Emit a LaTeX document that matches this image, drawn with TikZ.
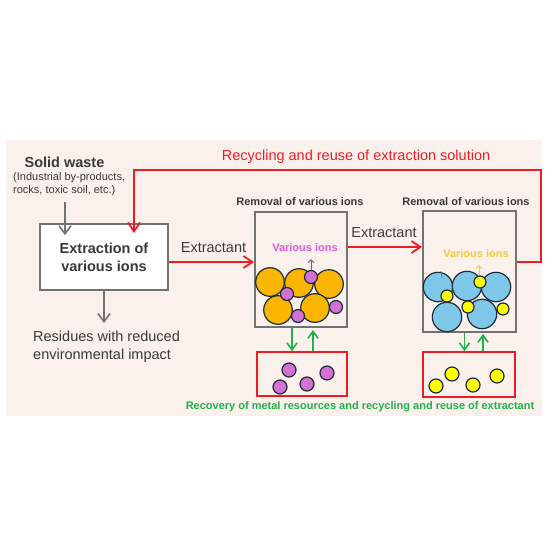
\documentclass[tikz,border=0pt]{standalone}
\usepackage{fontspec}
\setmainfont{Liberation Sans}
\usetikzlibrary{arrows.meta}
\definecolor{bg}{HTML}{FAF1EC}
\definecolor{txtc}{HTML}{3A3A3A}
\definecolor{boxc}{HTML}{727272}
\definecolor{redc}{HTML}{EE1C24}
\definecolor{grnc}{HTML}{22B14C}
\definecolor{magc}{HTML}{D65FD6}
\definecolor{yelt}{HTML}{F7CB2D}
\definecolor{orc}{HTML}{FBB700}
\definecolor{purc}{HTML}{D46FD3}
\definecolor{bluc}{HTML}{7FC7E9}
\definecolor{ylc}{HTML}{FFFF00}
\definecolor{outc}{HTML}{1E2B3A}
\begin{document}
\begin{tikzpicture}[x=1pt,y=-1pt,
  txt/.style={inner sep=0pt, text=txtc},
  big/.style={font=\fontsize{14.5}{18}\selectfont},
  bigb/.style={font=\bfseries\fontsize{14.5}{18}\selectfont},
  smallb/.style={font=\bfseries\fontsize{11}{13}\selectfont},
  smallr/.style={font=\fontsize{11}{13}\selectfont},
  box/.style={draw=boxc, line width=1.8pt, inner sep=0pt},
  rbox/.style={draw=redc, line width=1.6pt, inner sep=0pt},
  garrow/.style={draw=boxc, line width=1.6pt, -{Straight Barb[length=8pt,width=12pt]}},
  rarrow/.style={draw=redc, line width=1.8pt, -{Straight Barb[length=9pt,width=12pt]}},
  gnarrow/.style={draw=grnc, line width=1.6pt, -{Straight Barb[length=7pt,width=10pt]}},
  ball/.style={draw=outc, line width=1.2pt}]
\useasboundingbox (0,0) rectangle (560,560);
\fill[white] (0,0) rectangle (560,560);
\fill[bg] (6,140) rectangle (542,416);

% left part
\node[txt, bigb] (sw) at (64.5,162) {Solid waste};
\node[txt, smallr, align=left, anchor=west] (swd) at (13,184.5) {(Industrial by-products,\\rocks, toxic soil, etc.)};
\node[box, fill=white, minimum width=128pt, minimum height=66pt, align=center, text=txtc, bigb] (ext) at (104,257) {Extraction of\\various ions};
\coordinate (a1) at (65,202);
\draw[garrow, shorten >=-12pt] (a1) -- (a1 |- ext.north);
\coordinate (r1) at (104,323);
\draw[garrow] (ext.south) -- (r1);
\node[txt, big, anchor=west, align=left] (res) at (33,347) {Residues with reduced\\environmental impact};

% column boxes
\node[box, minimum width=92pt, minimum height=115pt] (c1) at (301,269.5) {};
\node[box, minimum width=93pt, minimum height=121pt] (c2) at (469.5,271.5) {};
\node[rbox, minimum width=90pt, minimum height=44pt] (b1) at (302,374) {};
\node[rbox, minimum width=92pt, minimum height=45pt] (b2) at (469,374.5) {};

\node[txt, smallb] (rm1) at (300,202) {Removal of various ions};
\node[txt, smallb] (rm2) at (466,202) {Removal of various ions};

% red arrows
\draw[rarrow] ([yshift=-5pt]ext.east) -- ([yshift=-5pt]ext.east -| c1.west);
\node[txt, big] (lx1) at (213.5,248) {Extractant};
\draw[rarrow] ([yshift=22.5pt]c1.east) -- ([yshift=22.5pt]c1.east -| c2.west);
\node[txt, big] (lx2) at (384,233) {Extractant};
\coordinate (rc1) at (541,170);
\coordinate (rc2) at (134,170);
\draw[rarrow, shorten >=-10pt] ([yshift=9.5pt]c2.east) -| (rc1) -- (rc2) -- (rc2 |- ext.north);
\node[txt, big, text=redc] (rec) at (356,157) {Recycling and reuse of extraction solution};

% column 1 contents
\node[txt, smallb, text=magc] (vi1) at (305,248) {Various ions};
\foreach \p in {(270,282),(299,283),(329,284),(278,310),(315,308)}
  \draw[ball, fill=orc] \p circle[radius=14.3];
\foreach \p in {(311,277),(287,294),(298,316),(336,307)}
  \draw[ball, fill=purc] \p circle[radius=6.5];
\draw[draw=purc!70!black, line width=1pt, -{Straight Barb[length=3pt,width=6pt]}] (311,270) -- (311,259);

% column 2 contents
\node[txt, smallb, text=yelt] (vi2) at (476,254) {Various ions};
\foreach \p in {(438,287),(467,286),(496,287),(447,317),(482,314)}
  \draw[ball, fill=bluc] \p circle[radius=14.7];
\foreach \p in {(480,282),(447,296),(468,307),(503,309)}
  \draw[ball, fill=ylc] \p circle[radius=6];
\draw[draw=yelt, line width=1pt, -{Straight Barb[length=3pt,width=6pt]}] (479,275) -- (479,265);
\draw[draw=bluc!60!blue, line width=0.8pt] (441,271) -- (442,278);

% bottom boxes contents
\foreach \p in {(289,370),(327,373),(280,387),(307,384)}
  \draw[ball, fill=purc] \p circle[radius=7];
\foreach \p in {(436,386),(452,374),(473,385),(497,376)}
  \draw[ball, fill=ylc] \p circle[radius=7];

% green arrows
\draw[gnarrow] ([xshift=-9pt]c1.south) -- ([xshift=-9pt]c1.south |- b1.north);
\draw[gnarrow, shorten >=2pt] ([xshift=11pt]b1.north) -- ([xshift=11pt]b1.north |- c1.south);
\draw[gnarrow] ([xshift=-5pt]c2.south) -- ([xshift=-5pt]c2.south |- b2.north);
\draw[gnarrow, shorten >=1pt] ([xshift=14pt]b2.north) -- ([xshift=14pt]b2.north |- c2.south);

\node[txt, smallb, text=grnc] (gt) at (360,407) {Recovery of metal resources and recycling and reuse of extractant};
\end{tikzpicture}
\end{document}
